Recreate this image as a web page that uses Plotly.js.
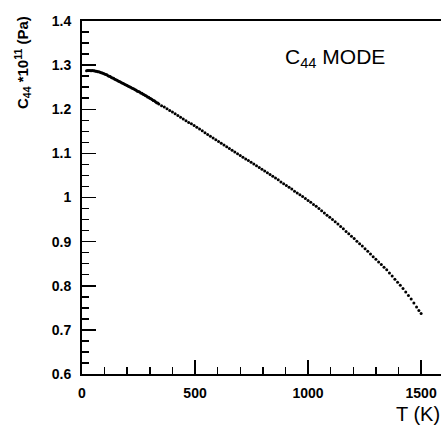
<!DOCTYPE html>
<html>
<head>
<meta charset="utf-8">
<script src="https://cdn.plot.ly/plotly-3.0.1.min.js"></script>
<style>html,body{margin:0;padding:0;background:#fff;}#chart{width:442px;height:427px;}</style>
</head>
<body>
<div id="chart"></div>
<script>
// Temperature (K) and elastic constant C44 (x1e11 Pa)
var temperature = [
  20,25,30,35,40,45,50,55,60,65,70,75,80,85,90,95,100,105,110,115,120,125,130,135,140,145,150,155,160,165,170,175,180,185,190,195,200,205,210,215,220,225,230,235,240,245,250,255,260,265,270,275,280,285,290,295,300,305,310,315,320,325,330,335,340,
  352,364,376,388,400,412,424,436,448,460,472,484,496,508,520,532,544,556,568,580,592,604,616,628,640,652,664,676,688,700,712,724,736,748,760,772,784,796,808,820,832,844,856,868,880,892,904,916,928,940,952,964,976,988,1000,
  1012,1024,1036,1048,1060,1072,1084,1096,1108,1120,1132,1144,1156,1168,1180,1192,1204,1216,1228,1240,1252,1264,1276,1288,1300,1312,1324,1336,1348,1360,1372,1384,1396,1408,1420,1432,1444,1456,1468,1480,1490,1500
];
var c44 = [
  1.287,1.288,1.288,1.288,1.287,1.288,1.287,1.287,1.286,1.286,1.285,1.285,1.284,1.283,1.282,1.281,1.280,1.279,1.278,1.276,1.275,1.274,1.272,1.271,1.270,1.268,1.267,1.266,1.264,1.263,1.262,1.260,1.259,1.258,1.256,1.255,1.254,1.252,1.251,1.250,1.248,1.247,1.246,1.244,1.243,1.241,1.240,1.239,1.237,1.236,1.234,1.233,1.231,1.230,1.228,1.227,1.225,1.224,1.222,1.220,1.219,1.217,1.215,1.214,1.212,
  1.208,1.205,1.201,1.197,1.194,1.190,1.186,1.182,1.178,1.174,1.170,1.167,1.163,1.159,1.155,1.151,1.147,1.143,1.139,1.135,1.131,1.127,1.123,1.119,1.115,1.111,1.107,1.103,1.099,1.095,1.091,1.087,1.084,1.080,1.076,1.072,1.068,1.064,1.060,1.056,1.052,1.048,1.044,1.040,1.035,1.031,1.027,1.023,1.019,1.014,1.010,1.006,1.002,0.998,0.993,
  0.989,0.984,0.980,0.975,0.970,0.965,0.960,0.955,0.950,0.945,0.940,0.934,0.929,0.923,0.918,0.912,0.907,0.901,0.895,0.890,0.884,0.878,0.872,0.866,0.860,0.854,0.848,0.842,0.836,0.829,0.822,0.815,0.808,0.801,0.794,0.786,0.778,0.770,0.761,0.752,0.744,0.737
];
var xTickVals = [0, 500, 1000, 1500];
var yTickVals = [0.6, 0.7, 0.8, 0.9, 1.0, 1.1, 1.2, 1.3, 1.4];
var yTickText = ['0.6','0.7','0.8','0.9','1','1.1','1.2','1.3','1.4'];

var trace = {
  x: temperature, y: c44, type: 'scatter', mode: 'markers',
  marker: {color: '#000', size: 3, symbol: 'circle'},
  hoverinfo: 'none'
};

var tickFont = {family: 'Liberation Sans, Arial, sans-serif', size: 14, color: '#000', weight: 'bold'};

var layout = {
  width: 442, height: 427,
  margin: {l: 82, r: 1, t: 21, b: 53},
  paper_bgcolor: '#fff', plot_bgcolor: '#fff',
  showlegend: false,
  xaxis: {
    range: [0, 1588], showgrid: false, zeroline: false,
    showline: true, linecolor: '#000', linewidth: 2, mirror: true,
    ticks: 'inside', ticklen: 14, tickwidth: 1.5, tickcolor: '#000',
    tickvals: xTickVals, ticktext: xTickVals.map(String),
    tickfont: tickFont, ticklabelstandoff: 5,
    minor: {dtick: 100, tick0: 0, ticks: 'inside', ticklen: 7, tickwidth: 1.5, tickcolor: '#000', showgrid: false}
  },
  yaxis: {
    range: [0.6, 1.4], showgrid: false, zeroline: false,
    showline: true, linecolor: '#000', linewidth: 2, mirror: false,
    ticks: 'inside', ticklen: 14, tickwidth: 1.5, tickcolor: '#000',
    tickvals: yTickVals, ticktext: yTickText,
    tickfont: tickFont, ticklabelstandoff: 6,
    minor: {dtick: 0.025, tick0: 0.6, ticks: 'inside', ticklen: 7, tickwidth: 1.5, tickcolor: '#000', showgrid: false}
  },
  annotations: [
    {text: 'C<sub>44</sub> MODE', xref: 'paper', yref: 'paper', x: 0.705, y: 0.894,
     xanchor: 'center', yanchor: 'middle', showarrow: false,
     font: {family: 'Liberation Sans, Arial, sans-serif', size: 21, color: '#000'}},
    {text: 'T (K)', xref: 'paper', yref: 'paper', x: 1.003, y: -0.112,
     xanchor: 'right', yanchor: 'middle', showarrow: false,
     font: {family: 'Liberation Sans, Arial, sans-serif', size: 20, color: '#000'}},
    {text: 'C<sub>44</sub> *10<sup>11</sup> (Pa)', xref: 'paper', yref: 'paper', x: -0.167, y: 0.881,
     xanchor: 'center', yanchor: 'middle', textangle: -90, showarrow: false,
     font: {family: 'Liberation Sans, Arial, sans-serif', size: 15, color: '#000', weight: 'bold'}}
  ]
};

Plotly.newPlot('chart', [trace], layout, {staticPlot: true, displayModeBar: false});
</script>
</body>
</html>
